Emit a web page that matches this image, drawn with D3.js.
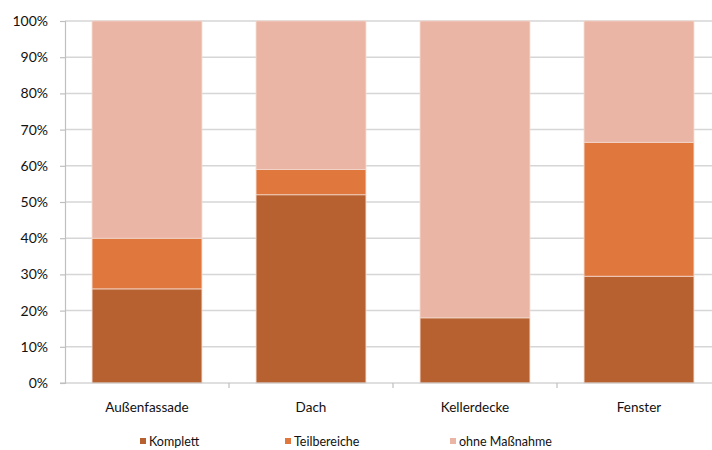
<!DOCTYPE html>
<html>
<head>
<meta charset="utf-8">
<script src="https://cdn.jsdelivr.net/npm/d3@7/dist/d3.min.js"></script>
<style>
  html, body { margin: 0; padding: 0; background: #fff; }
  svg { display: block; }
  text { font-family: "Lato", "Open Sans", sans-serif; fill: #111; }
</style>
</head>
<body>
<svg id="chart" width="712" height="450"></svg>
<script>
// Sanierungsmaßnahmen je Bauteil (Anteile in %)
const categories = ["Außenfassade", "Dach", "Kellerdecke", "Fenster"];
const seriesNames = ["Komplett", "Teilbereiche", "ohne Maßnahme"];
const komplett = [26, 52, 18, 29.5];
const teilbereiche = [14, 7, 0, 37];
const ohneMassnahme = [60, 41, 82, 33.5];
const yTicks = [0, 10, 20, 30, 40, 50, 60, 70, 80, 90, 100];
const colors = ["#B86130", "#E0773C", "#EAB5A5"];

const rows = categories.map((c, i) => ({
  cat: c,
  "Komplett": komplett[i],
  "Teilbereiche": teilbereiche[i],
  "ohne Maßnahme": ohneMassnahme[i]
}));

const svg = d3.select("#chart");
const plotLeft = 65, plotRight = 721, plotTop = 21, plotBottom = 383;

const x = d3.scaleBand().domain(categories).range([plotLeft, plotRight])
  .paddingInner(0.33).paddingOuter(0.165);
const y = d3.scaleLinear().domain([0, 100]).range([plotBottom, plotTop]);
const color = d3.scaleOrdinal().domain(seriesNames).range(colors);

// horizontal gridlines
svg.append("g").selectAll("line").data(yTicks.filter(d => d > 0)).join("line")
  .attr("x1", plotLeft).attr("x2", 712)
  .attr("y1", d => y(d)).attr("y2", d => y(d))
  .attr("stroke", "#d6d6d6").attr("stroke-width", 1.5);

// y axis
const yAxis = svg.append("g").attr("transform", `translate(${plotLeft},0)`)
  .call(d3.axisLeft(y).tickValues(yTicks).tickFormat(d => d + "%").tickSize(5).tickPadding(12));
yAxis.select(".domain").attr("stroke", "#bfbfbf").attr("stroke-width", 1.2);
yAxis.selectAll(".tick line").attr("stroke", "#bfbfbf").attr("stroke-width", 1.2);
yAxis.selectAll(".tick text").attr("font-size", 14).attr("fill", "#111")
  .style("font-family", "Lato, sans-serif");

// stacked bars
const stacked = d3.stack().keys(seriesNames)(rows);
svg.append("g").selectAll("g").data(stacked).join("g")
  .attr("fill", d => color(d.key))
  .selectAll("rect").data(d => d).join("rect")
  .attr("x", d => x(d.data.cat))
  .attr("width", x.bandwidth())
  .attr("y", d => y(d[1]))
  .attr("height", d => y(d[0]) - y(d[1]))
  .attr("stroke", "#f3d8cc").attr("stroke-width", 0.8);

// x axis with category boundary ticks
const xg = svg.append("g");
xg.append("line").attr("x1", plotLeft - 5).attr("x2", 712)
  .attr("y1", plotBottom).attr("y2", plotBottom)
  .attr("stroke", "#bfbfbf").attr("stroke-width", 1.2);
const step = x.step();
xg.selectAll("line.b").data(d3.range(1, categories.length)).join("line")
  .attr("class", "b")
  .attr("x1", i => plotLeft + i * step).attr("x2", i => plotLeft + i * step)
  .attr("y1", plotBottom).attr("y2", plotBottom + 5)
  .attr("stroke", "#bfbfbf").attr("stroke-width", 1.2);
xg.selectAll("text").data(categories).join("text")
  .attr("x", d => x(d) + x.bandwidth() / 2)
  .attr("y", 412)
  .attr("text-anchor", "middle")
  .attr("font-size", 13.5)
  .text(d => d);

// legend
const legendX = [140, 285, 450];
const lg = svg.append("g").selectAll("g").data(seriesNames).join("g")
  .attr("transform", (d, i) => `translate(${legendX[i]},0)`);
lg.append("rect").attr("x", 0).attr("y", 438).attr("width", 6).attr("height", 6)
  .attr("fill", d => color(d));
lg.append("text").attr("x", 9).attr("y", 446).attr("font-size", 12.5).text(d => d);
</script>
</body>
</html>
